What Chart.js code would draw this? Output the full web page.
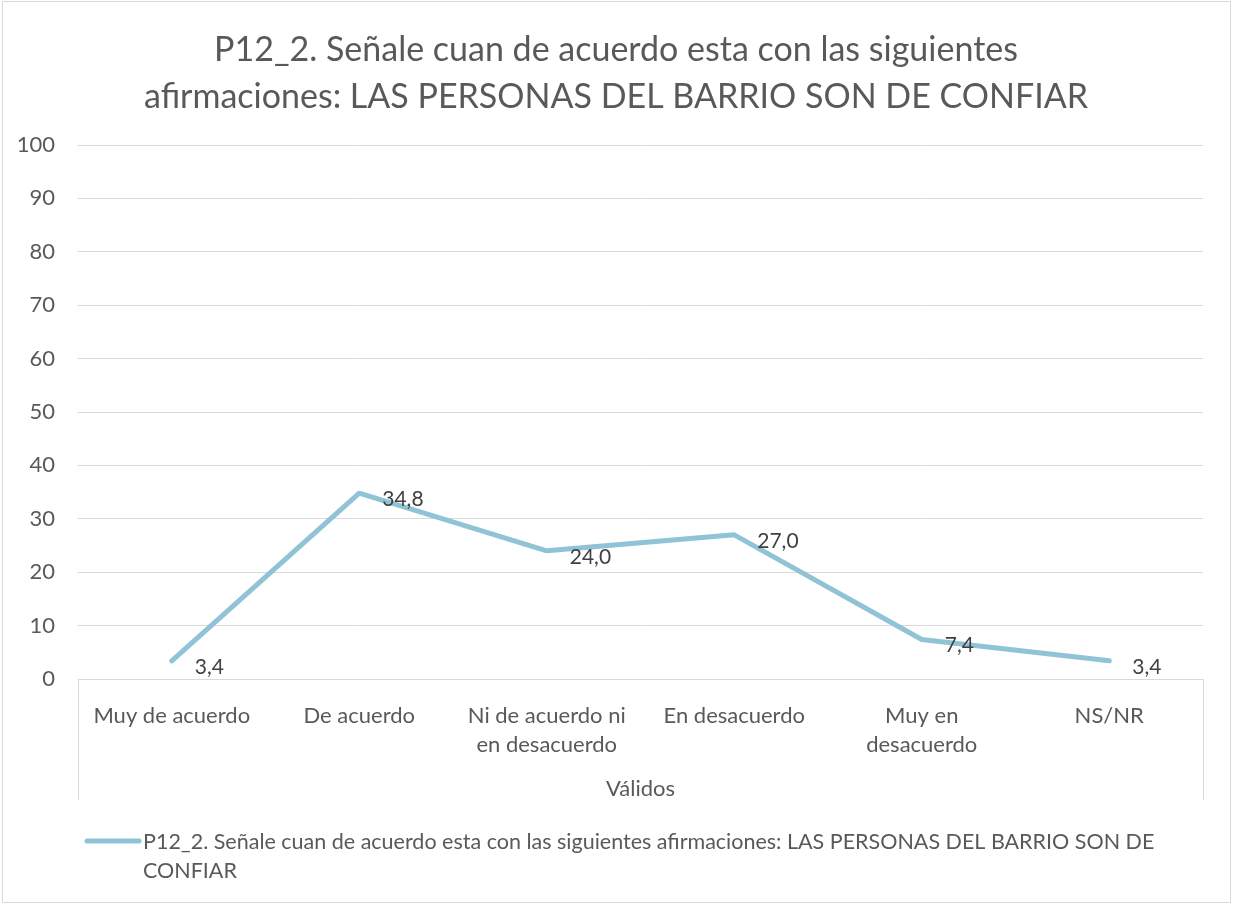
<!DOCTYPE html>
<html>
<head>
<meta charset="utf-8">
<script src="https://cdn.jsdelivr.net/npm/chart.js@4.4.1/dist/chart.umd.min.js"></script>
<style>
  body { margin: 0; background: #fff; }
  #chart { display: block; }
</style>
</head>
<body>
<canvas id="chart" width="1233" height="905"></canvas>
<script>
// data
var categories = [
    'Muy de acuerdo',
    'De acuerdo',
    ['Ni de acuerdo ni', 'en desacuerdo'],
    'En desacuerdo',
    ['Muy en', 'desacuerdo'],
    'NS/NR'
];
var values = [3.4, 34.8, 24.0, 27.0, 7.4, 3.4];
var titleLines = ['P12_2. Señale cuan de acuerdo esta con las siguientes',
                  'afirmaciones: LAS PERSONAS DEL BARRIO SON DE CONFIAR'];
var seriesName = 'P12_2. Señale cuan de acuerdo esta con las siguientes afirmaciones: LAS PERSONAS DEL BARRIO SON DE CONFIAR';
var groupLabel = 'Válidos';

const FONT = 'Lato, "Open Sans", sans-serif';
const TEXT_COLOR = '#595959';
const LINE_COLOR = '#8fc3d5';
const GRID_COLOR = '#d9d9d9';
const X_AXIS_BOTTOM = 800;

function fmt(v) {
    return v.toFixed(1).replace('.', ',');
}

// frame, title, group separators, data labels and the wrapped legend
var extras = {
    id: 'extras',
    afterDraw: function(chart) {
        var c = chart.ctx;
        var area = chart.chartArea;
        c.save();

        // outer border
        c.strokeStyle = GRID_COLOR;
        c.lineWidth = 1;
        c.strokeRect(2.5, 1.5, 1228, 901);

        // title (Excel centres it on the whole frame, not the plot)
        c.fillStyle = TEXT_COLOR;
        c.font = '34px ' + FONT;
        c.textAlign = 'center';
        c.textBaseline = 'middle';
        titleLines.forEach(function(l, i) {
            c.fillText(l, 616, 50 + i * 47);
        });

        // multi level axis box sides
        c.beginPath();
        c.moveTo(Math.round(area.left) + 0.5, area.bottom);
        c.lineTo(Math.round(area.left) + 0.5, X_AXIS_BOTTOM);
        c.moveTo(Math.round(area.right) + 0.5, area.bottom);
        c.lineTo(Math.round(area.right) + 0.5, X_AXIS_BOTTOM);
        c.stroke();

        // data labels
        var meta = chart.getDatasetMeta(0);
        c.font = '21px ' + FONT;
        c.fillStyle = '#404040';
        c.textAlign = 'left';
        c.textBaseline = 'middle';
        meta.data.forEach(function(pt, i) {
            c.fillText(fmt(values[i]), pt.x + 23, pt.y + 6);
        });

        // legend
        c.strokeStyle = LINE_COLOR;
        c.lineWidth = 5;
        c.lineCap = 'round';
        c.beginPath();
        c.moveTo(87, 841);
        c.lineTo(139, 841);
        c.stroke();

        c.fillStyle = TEXT_COLOR;
        c.font = '21.5px ' + FONT;
        var words = seriesName.split(' ');
        var lines = [];
        var cur = '';
        words.forEach(function(w) {
            var test = cur ? cur + ' ' + w : w;
            if (c.measureText(test).width > 1040 && cur) {
                lines.push(cur);
                cur = w;
            } else {
                cur = test;
            }
        });
        lines.push(cur);
        lines.forEach(function(l, i) {
            c.fillText(l, 143, 842 + i * 29);
        });

        c.restore();
    }
};

var ctx = document.getElementById('chart').getContext('2d');
var chart = new Chart(ctx, {
    type: 'line',
    data: {
        labels: categories,
        datasets: [{
            label: seriesName,
            data: values,
            borderColor: LINE_COLOR,
            borderWidth: 5,
            borderCapStyle: 'round',
            borderJoinStyle: 'round',
            pointRadius: 0,
            tension: 0
        }]
    },
    options: {
        responsive: false,
        devicePixelRatio: 1,
        animation: false,
        layout: {
            padding: { left: 0, right: 30, top: 145, bottom: 105 }
        },
        plugins: {
            legend: { display: false },
            tooltip: { enabled: false },
            title: { display: false }
        },
        scales: {
            x: {
                offset: true,
                grid: { display: false, drawTicks: false },
                border: { display: true, color: GRID_COLOR, width: 1 },
                ticks: {
                    color: TEXT_COLOR,
                    font: { family: FONT, size: 22, lineHeight: 1.32 },
                    padding: 22,
                    maxRotation: 0,
                    autoSkip: false
                },
                title: {
                    display: true,
                    text: groupLabel,
                    color: TEXT_COLOR,
                    font: { family: FONT, size: 22, lineHeight: 1.0 },
                    padding: { top: 0, bottom: 0 }
                },
                afterFit: function(scale) { scale.height = 121; }
            },
            y: {
                min: 0,
                max: 100,
                ticks: {
                    stepSize: 10,
                    color: TEXT_COLOR,
                    font: { family: FONT, size: 22 },
                    padding: 23
                },
                grid: { color: GRID_COLOR, lineWidth: 1, drawTicks: false },
                border: { display: false },
                afterFit: function(scale) { scale.width = 78; }
            }
        }
    },
    plugins: [extras]
});
</script>
</body>
</html>
